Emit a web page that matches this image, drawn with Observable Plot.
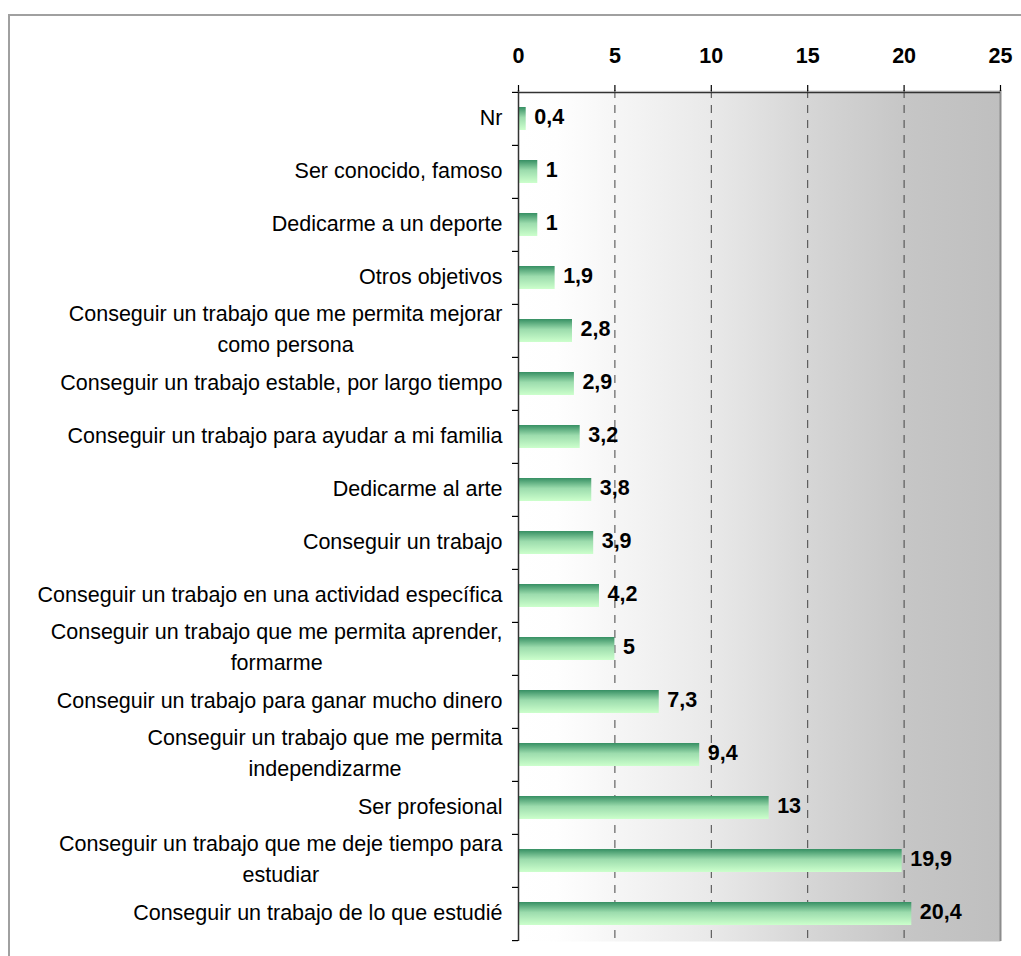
<!DOCTYPE html>
<html><head><meta charset="utf-8">
<script src="https://cdn.jsdelivr.net/npm/d3@7"></script>
<script src="https://cdn.jsdelivr.net/npm/@observablehq/plot@0.6"></script>
<style>
html,body{margin:0;padding:0;background:#fff;overflow:hidden;width:1021px;height:956px}
#frame{position:absolute;left:8px;top:14px;width:1100px;height:1100px;border-left:2px solid #a0a0a0;border-top:2px solid #a0a0a0}
#chart{position:absolute;left:0;top:0}
</style></head><body>
<div id="frame"></div><div id="chart"></div>
<script>
const categories = [
  "Nr",
  "Ser conocido, famoso",
  "Dedicarme a un deporte",
  "Otros objetivos",
  "Conseguir un trabajo que me permita mejorar\ncomo persona",
  "Conseguir un trabajo estable, por largo tiempo",
  "Conseguir un trabajo para ayudar a mi familia",
  "Dedicarme al arte",
  "Conseguir un trabajo",
  "Conseguir un trabajo en una actividad específica",
  "Conseguir un trabajo que me permita aprender,\nformarme",
  "Conseguir un trabajo para ganar mucho dinero",
  "Conseguir un trabajo que me permita\nindependizarme",
  "Ser profesional",
  "Conseguir un trabajo que me deje tiempo para\nestudiar",
  "Conseguir un trabajo de lo que estudié"
];
const values = [0.4, 1, 1, 1.9, 2.8, 2.9, 3.2, 3.8, 3.9, 4.2, 5, 7.3, 9.4, 13, 19.9, 20.4];
const xTicks = [0, 5, 10, 15, 20, 25];
const gridTicks = [5, 10, 15, 20];

const data = categories.map((c, i) => ({category: c, value: values[i]}));
const W = 1021, H = 956, mL = 518, mR = 21, mT = 90, mB = 15;
const step = (H - mT - mB) / categories.length;
const fmt = v => String(v).replace(".", ",");

const defs = () => {
  const d = d3.create("svg:defs");
  const bg = d.append("linearGradient").attr("id", "bgGrad")
    .attr("x1", 0).attr("y1", 0).attr("x2", 1).attr("y2", 0);
  [[0, "#ffffff"], [0.08, "#fefefe"], [0.2, "#f6f6f6"], [0.4, "#e9e9e9"], [0.6, "#d6d6d6"], [0.8, "#c6c6c6"], [1, "#bfbfbf"]]
    .forEach(([o, c]) => bg.append("stop").attr("offset", o).attr("stop-color", c));
  const bar = d.append("linearGradient").attr("id", "barGrad")
    .attr("x1", 0).attr("y1", 0).attr("x2", 0).attr("y2", 1);
  [[0, "#368f63"], [0.45, "#9cdcad"], [1, "#ccffcc"]]
    .forEach(([o, c]) => bar.append("stop").attr("offset", o).attr("stop-color", c));
  return d.node();
};

const chart = Plot.plot({
  width: W, height: H,
  marginLeft: mL, marginRight: mR, marginTop: mT, marginBottom: mB,
  style: {fontFamily: "'Liberation Sans', Arial, sans-serif", fontSize: "21.5px", color: "#000", background: "transparent", overflow: "visible"},
  x: {domain: [0, 25], axis: null},
  y: {domain: categories, padding: 0, axis: null},
  marks: [
    defs,
    Plot.frame({fill: "url(#bgGrad)", stroke: null}),
    Plot.ruleX(gridTicks, {stroke: "#444", strokeWidth: 1, strokeDasharray: "8,7"}),
    Plot.barX(data, {x: "value", y: "category", fill: "url(#barGrad)", insetTop: 15, insetBottom: 15}),
    Plot.ruleX([25], {stroke: "#8c8c8c", strokeWidth: 2}),
    Plot.ruleX([0], {stroke: "#333", strokeWidth: 1.5}),
    Plot.ruleY([categories[0]], {x1: 0, x2: 25, dy: -step / 2, stroke: "#333", strokeWidth: 1.5}),
    Plot.axisX(xTicks, {anchor: "top", tickSize: 6, tickPadding: 22, fontWeight: "bold", label: null, strokeWidth: 1.2}),
    Plot.axisY({anchor: "left", tickSize: 0, tickPadding: 16, lineHeight: 1.44, label: null, dy: -4}),
    Plot.axisY({anchor: "left", tickSize: 6, fill: "none", label: null, dy: -step / 2, strokeWidth: 1.2}),
    Plot.axisY([categories[categories.length - 1]], {anchor: "left", tickSize: 6, fill: "none", label: null, dy: step / 2, strokeWidth: 1.2}),
    Plot.text(data, {x: "value", y: "category", text: d => fmt(d.value), dx: 8, dy: -2, textAnchor: "start", fontWeight: "bold"})
  ]
});
document.getElementById("chart").appendChild(chart);

// center the wrapped lines of multi-line category labels under each other
d3.select(chart).selectAll('g[aria-label="y-axis tick label"] text').each(function () {
  const spans = this.querySelectorAll("tspan");
  if (spans.length < 2) return;
  let maxW = 0;
  spans.forEach(s => { maxW = Math.max(maxW, s.getComputedTextLength()); });
  this.setAttribute("text-anchor", "middle");
  spans.forEach(s => s.setAttribute("x", -maxW / 2));
});
</script>
</body></html>
